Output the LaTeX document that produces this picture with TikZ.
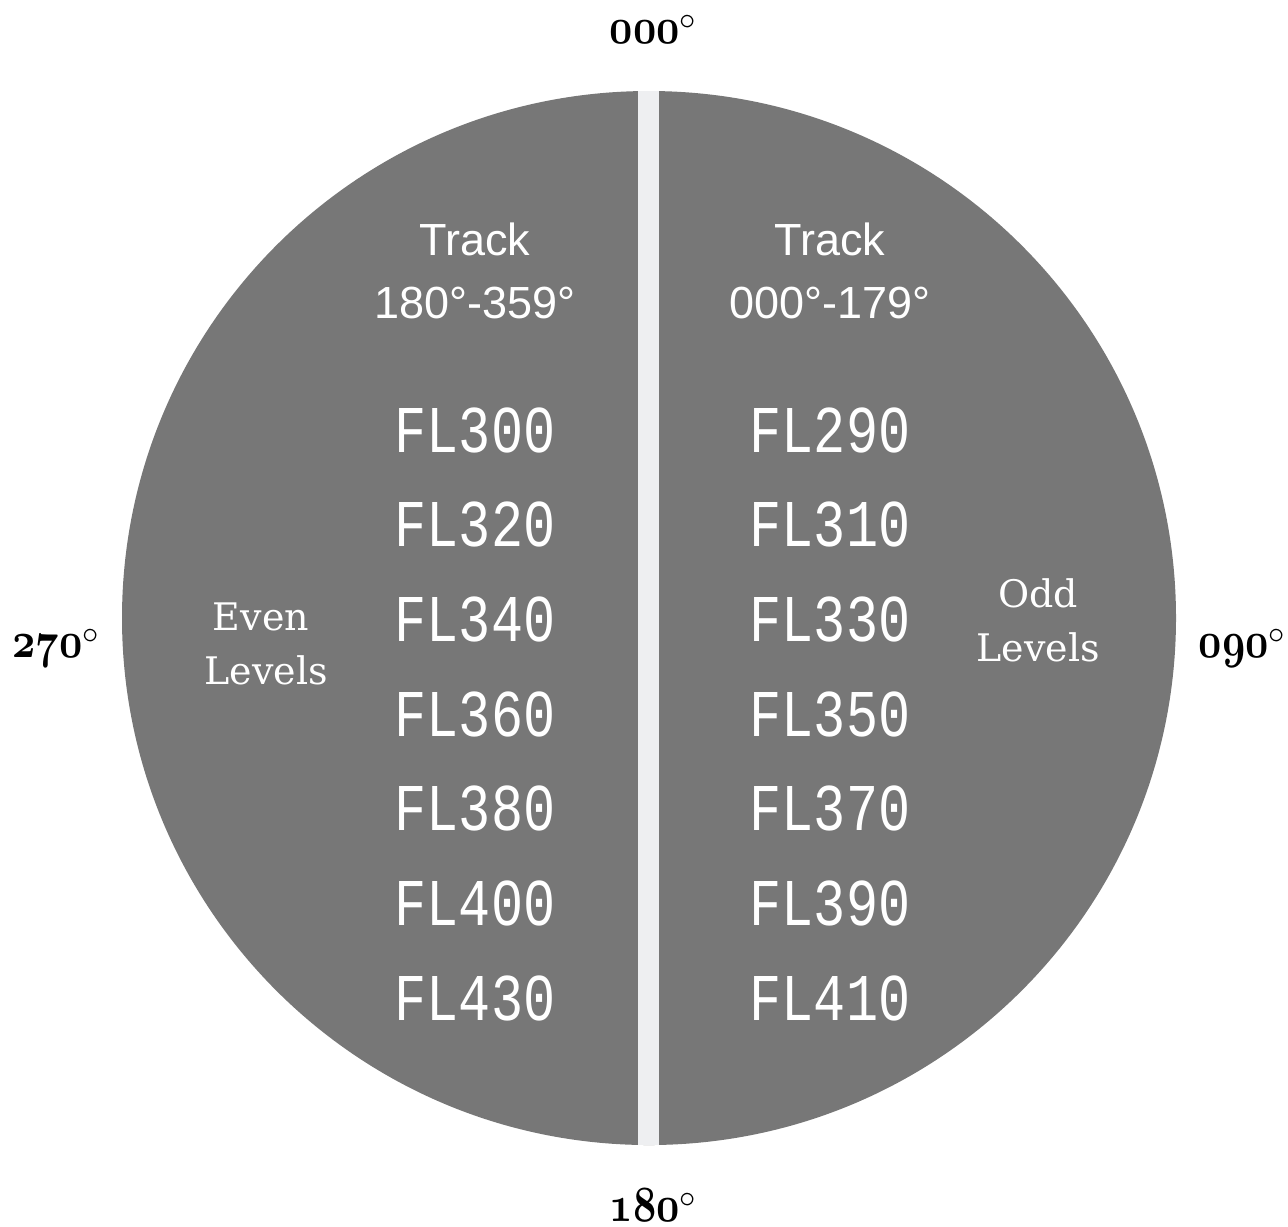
\documentclass[tikz,border=0pt]{standalone}
\usepackage{fontspec}
\usepackage{graphicx}
\newfontfamily\trackfont{Liberation Sans}
\newfontfamily\levelfont{DejaVu Serif}
\newfontfamily\flfont{Liberation Mono}
% old-style compass figures
\newcommand\degnum[1]{{\usefont{OML}{cmm}{b}{it}#1}}
\newcommand\degsign{\raisebox{-0.25ex}{$^{\circ}$}}
\definecolor{disc}{HTML}{777777}
\definecolor{stripcol}{HTML}{EEEFF1}
\begin{document}
\begin{tikzpicture}[x=0.01cm,y=-0.01cm,
  compass/.style={inner sep=0pt, anchor=base west, text=black,
    font=\fontsize{13.5}{16}\selectfont},
  tracklbl/.style={inner sep=0pt, anchor=base, text=white,
    font=\trackfont\fontsize{12.8}{15}\selectfont},
  levellbl/.style={inner sep=0pt, anchor=base, text=white,
    font=\levelfont\fontsize{10.8}{13}\selectfont},
  flevel/.style={inner sep=0pt, anchor=center, text=white,
    font=\flfont\fontsize{19}{22}\selectfont}]
\useasboundingbox (0,0) rectangle (1288,1226);

% the disc, split in two halves by a light strip
\fill[disc] (649,618) circle[radius=527];
\begin{scope}
  \clip (649,618) circle[radius=527];
  \fill[stripcol] (638,0) rectangle (659,1226);
\end{scope}

% compass headings
\node[compass] (n000) at (609,43)   {\scalebox{0.8}[1]{\degnum{000}}\degsign};
\node[compass] (n090) at (1198,657) {\scalebox{0.8}[1]{\degnum{090}}\degsign};
\node[compass] (n180) at (609,1221) {\scalebox{0.8}[1]{\degnum{180}}\degsign};
\node[compass] (n270) at (12,657)   {\scalebox{0.8}[1]{\degnum{270}}\degsign};

% track headers
\node[tracklbl] (trackW) at (475,255) {Track};
\node[tracklbl] (rangeW) at (475,318) {180°-359°};
\node[tracklbl] (trackE) at (830,255) {Track};
\node[tracklbl] (rangeE) at (830,318) {000°-179°};

% level side labels
\node[levellbl] (evenA) at (261,630) {Even};
\node[levellbl] (evenB) at (266,684) {Levels};
\node[levellbl] (oddA)  at (1038,607) {Odd};
\node[levellbl] (oddB)  at (1038,661) {Levels};

% flight levels, westbound (even)
\foreach \lvl [count=\i] in {300,320,340,360,380,400,430}
  \node[flevel] (w\i) at (475,{430+94.7*(\i-1)}) {\scalebox{0.8}[1]{FL\lvl}};
% flight levels, eastbound (odd)
\foreach \lvl [count=\i] in {290,310,330,350,370,390,410}
  \node[flevel] (e\i) at (830,{430+94.7*(\i-1)}) {\scalebox{0.8}[1]{FL\lvl}};
\end{tikzpicture}
\end{document}
